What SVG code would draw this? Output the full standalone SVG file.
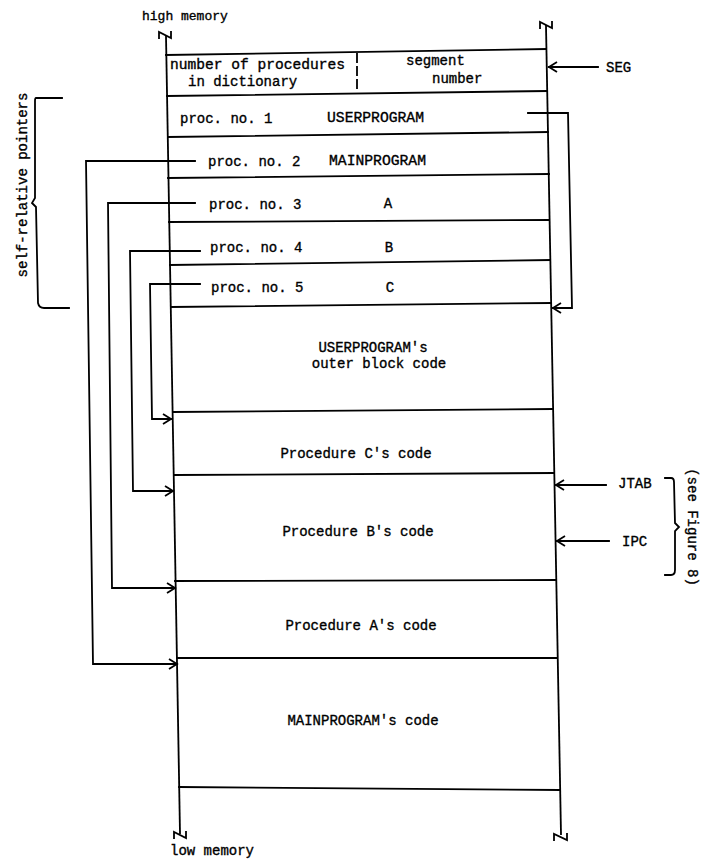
<svg xmlns="http://www.w3.org/2000/svg" width="702" height="859" viewBox="0 0 702 859">
<style>
  .ln { stroke:#000; stroke-width:1.8; fill:none; stroke-linecap:square; }
  .t { font-family:"Liberation Mono","DejaVu Sans Mono",monospace; font-size:14px; fill:#000; stroke:#000; stroke-width:0.35; }
  .c { text-anchor:middle; }
  .sm { font-size:13px; }
</style>
<defs>
  <marker id="ah" markerWidth="12" markerHeight="12" refX="9" refY="6" orient="auto" markerUnits="userSpaceOnUse">
    <path d="M1,1 L9,6 L1,11" fill="none" stroke="#000" stroke-width="1.8"/>
  </marker>
</defs>
<rect width="702" height="859" fill="#fff"/>

<g id="frame">
  <text class="t sm" x="142" y="20">high memory</text>
  <path class="ln" d="M159,38 L159,32 L171,38 L171,32"/>
  <path class="ln" d="M166,36 L180,833"/>
  <path class="ln" d="M540,28 L540,22 L552,28 L552,22"/>
  <path class="ln" d="M546,26 L561,834"/>
  <path class="ln" d="M174,838 L174,832 L186,838 L186,832"/>
  <path class="ln" d="M554,840 L554,834 L567,840 L567,834"/>
  <text class="t" x="170" y="855">low memory</text>
</g>

<g id="header">
  <path class="ln" d="M166,55 L546,49"/>
  <path class="ln" d="M167,96 L547,91"/>
  <path class="ln" d="M357,54 L357,91" stroke-dasharray="8,5"/>
  <text class="t" x="170" y="69" textLength="175" lengthAdjust="spacingAndGlyphs">number of procedures</text>
  <text class="t" x="188" y="86">in dictionary</text>
  <text class="t" x="406" y="65">segment</text>
  <text class="t" x="432" y="83">number</text>
</g>

<g id="row1">
  <path class="ln" d="M168,137 L548,132"/>
  <text class="t" x="180" y="123">proc. no. 1</text>
  <text class="t" x="327" y="122" textLength="97" lengthAdjust="spacingAndGlyphs">USERPROGRAM</text>
</g>
<g id="row2">
  <path class="ln" d="M168,178 L549,174"/>
  <text class="t" x="208" y="166">proc. no. 2</text>
  <text class="t" x="329" y="165" textLength="97" lengthAdjust="spacingAndGlyphs">MAINPROGRAM</text>
</g>
<g id="row3">
  <path class="ln" d="M169,222 L549,220"/>
  <text class="t" x="209" y="209">proc. no. 3</text>
  <text class="t c" x="388" y="208">A</text>
</g>
<g id="row4">
  <path class="ln" d="M170,265 L550,260"/>
  <text class="t" x="210" y="252">proc. no. 4</text>
  <text class="t c" x="389" y="252">B</text>
</g>
<g id="row5">
  <path class="ln" d="M171,307 L551,303"/>
  <text class="t" x="211" y="292">proc. no. 5</text>
  <text class="t c" x="390" y="292">C</text>
</g>
<g id="outer">
  <path class="ln" d="M173,412 L553,409"/>
  <text class="t c" x="373" y="352">USERPROGRAM's</text>
  <text class="t c" x="379" y="368">outer block code</text>
</g>
<g id="procC">
  <path class="ln" d="M174,475 L554,473"/>
  <text class="t c" x="356" y="458">Procedure C's code</text>
</g>
<g id="procB">
  <path class="ln" d="M175,581 L556,580"/>
  <text class="t c" x="358" y="536">Procedure B's code</text>
</g>
<g id="procA">
  <path class="ln" d="M177,658 L557,658"/>
  <text class="t c" x="361" y="630">Procedure A's code</text>
</g>
<g id="mainprog">
  <path class="ln" d="M179,787 L560,790"/>
  <text class="t c" x="363" y="725">MAINPROGRAM's code</text>
</g>

<g id="pointers-label">
  <path class="ln" d="M62,98 L36,98 Q35,98 35,101 L35,198 L32,203 L36,207 L38,303 Q39,308 44,308 L69,308"/>
  <text class="t" transform="translate(27,185) rotate(-90)" text-anchor="middle">self-relative pointers</text>
</g>

<g id="registers">
  <text class="t" x="606" y="72">SEG</text>
  <text class="t" x="618" y="488">JTAB</text>
  <text class="t" x="622" y="546">IPC</text>
  <path class="ln" d="M665,478 L671,478 Q674,478 674,482 L675,523 L679,527 L675,531 L675,570 Q675,575 671,575 L665,575"/>
  <text class="t" transform="translate(688,527) rotate(90)" text-anchor="middle">(see Figure 8)</text>
</g>

<g id="connectors">
  <path class="ln" d="M598,67 L549,67" marker-end="url(#ah)"/>
  <path class="ln" d="M606,485 L556,485" marker-end="url(#ah)"/>
  <path class="ln" d="M609,541 L557,541" marker-end="url(#ah)"/>
  <path class="ln" d="M528,113 L568,113 L572,308 L553,308" marker-end="url(#ah)"/>
  <path class="ln" d="M195,161 L86,161 L93,664 L177,664" marker-end="url(#ah)"/>
  <path class="ln" d="M195,203 L108,203 L112,588 L175,588" marker-end="url(#ah)"/>
  <path class="ln" d="M200,251 L130,251 L133,491 L173,491" marker-end="url(#ah)"/>
  <path class="ln" d="M200,284 L150,284 L152,419 L171,419" marker-end="url(#ah)"/>
</g>
</svg>
